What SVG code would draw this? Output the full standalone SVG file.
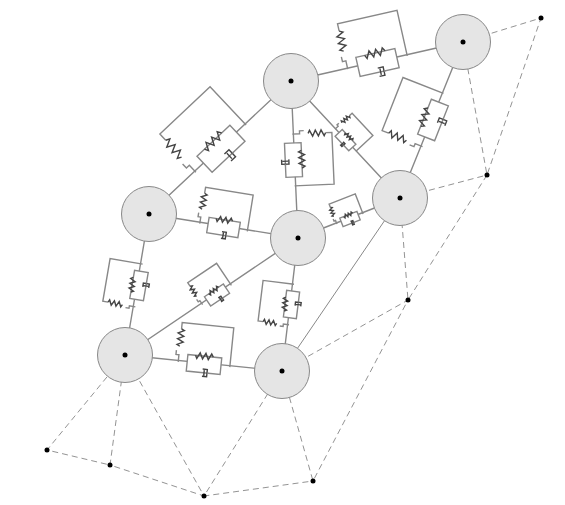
<svg xmlns="http://www.w3.org/2000/svg" width="565" height="505" viewBox="0 0 565 505" xmlns:xlink="http://www.w3.org/1999/xlink">
<style>
.w{fill:none;stroke:#888;stroke-width:1.4;vector-effect:non-scaling-stroke}
.b{fill:#fff;stroke:#888;stroke-width:1.4;vector-effect:non-scaling-stroke}
.s{fill:none;stroke:#444;stroke-width:1.4;vector-effect:non-scaling-stroke}
.link{stroke:#888;stroke-width:1.4}
.thin{stroke:#888;stroke-width:1}
.dash{stroke:#777;stroke-width:.8;stroke-dasharray:6 4;fill:none}
.n{fill:#e5e5e5;stroke:#888;stroke-width:1}
.d{fill:#000}
</style>
<defs>
<g id="unit">
<rect class="b" x="-20" y="-9.75" width="40" height="19.5"/>
<path class="w" d="M-30.5 0V-8.5H-34V-13.5M-30.5 -39V-46.5H30.5V0"/>
<path class="s" d="M-30.5 -39L-27 -37.3L-34 -33.9L-27 -30.5L-34 -27.1L-27 -23.7L-34 -20.3L-30.5 -18.5"/>
<path class="s" d="M-11 -9.75L-9.2 -6.3L-5.8 -13.2L-2.4 -6.3L1 -13.2L4.4 -6.3L7.8 -13.2L10 -9.75"/>
<path class="s" d="M-1 5.5H4.5V14H-1M1 6.5V13"/>
<path class="b" style="fill:none" d="M4.5 9.75H6"/>
</g>
</defs>
<g id="connectors">
<path class="link" d="M291 81L463 42M291 81L149 214M291 81L298 238M291 81L400 198M463 42L400 198M149 214L298 238M298 238L400 198M149 214L125 355M125 355L298 238M298 238L282 371M125 355L282 371"/>
<path class="thin" d="M400 198L282 371"/>
<path class="dash" d="M463 42L541 18L487 175L463 42M400 198L487 175L408 300L400 198M282 371L408 300L313 481L282 371L204 496L313 481M125 355L204 496L110 465L125 355L47 450L110 465"/>
</g>
<g id="units">
<use id="e1" href="#unit" transform="translate(377.5 62.5) rotate(-12.7)"/>
<use id="e2" href="#unit" transform="translate(221 148.7) rotate(-43.3) scale(1.13)"/>
<use id="e3" href="#unit" transform="translate(293.5 160) rotate(87.5) scale(.85)"/>
<use id="e4" href="#unit" transform="translate(345.5 140.2) rotate(47) scale(.5)"/>
<use id="e5" href="#unit" transform="translate(433 120) rotate(-68.5) scale(.935)"/>
<use id="e6" href="#unit" transform="translate(223.5 227.5) rotate(9.2) scale(.79)"/>
<use id="e7" href="#unit" transform="translate(350 219) rotate(-21.4) scale(.46)"/>
<use id="e8" href="#unit" transform="translate(139 285.5) rotate(-80.3) scale(.71)"/>
<use id="e9" href="#unit" transform="translate(217 295) rotate(-34) scale(.57)"/>
<use id="e10" href="#unit" transform="translate(291.5 304.5) rotate(-83) scale(.67)"/>
<use id="e11" href="#unit" transform="translate(204 364.5) rotate(5.8) scale(.85)"/>
</g>
<g id="n1"><circle class="n" cx="291" cy="81" r="27.5"/><circle class="d" cx="291" cy="81" r="2.5"/></g>
<g id="n2"><circle class="n" cx="463" cy="42" r="27.5"/><circle class="d" cx="463" cy="42" r="2.5"/></g>
<g id="n3"><circle class="n" cx="149" cy="214" r="27.5"/><circle class="d" cx="149" cy="214" r="2.5"/></g>
<g id="n4"><circle class="n" cx="298" cy="238" r="27.5"/><circle class="d" cx="298" cy="238" r="2.5"/></g>
<g id="n5"><circle class="n" cx="400" cy="198" r="27.5"/><circle class="d" cx="400" cy="198" r="2.5"/></g>
<g id="n6"><circle class="n" cx="125" cy="355" r="27.5"/><circle class="d" cx="125" cy="355" r="2.5"/></g>
<g id="n7"><circle class="n" cx="282" cy="371" r="27.5"/><circle class="d" cx="282" cy="371" r="2.5"/></g>
<g id="p1"><circle class="d" cx="541" cy="18" r="2.5"/></g>
<g id="p2"><circle class="d" cx="487" cy="175" r="2.5"/></g>
<g id="p3"><circle class="d" cx="408" cy="300" r="2.5"/></g>
<g id="p4"><circle class="d" cx="313" cy="481" r="2.5"/></g>
<g id="p5"><circle class="d" cx="204" cy="496" r="2.5"/></g>
<g id="p6"><circle class="d" cx="110" cy="465" r="2.5"/></g>
<g id="p7"><circle class="d" cx="47" cy="450" r="2.5"/></g>
</svg>
